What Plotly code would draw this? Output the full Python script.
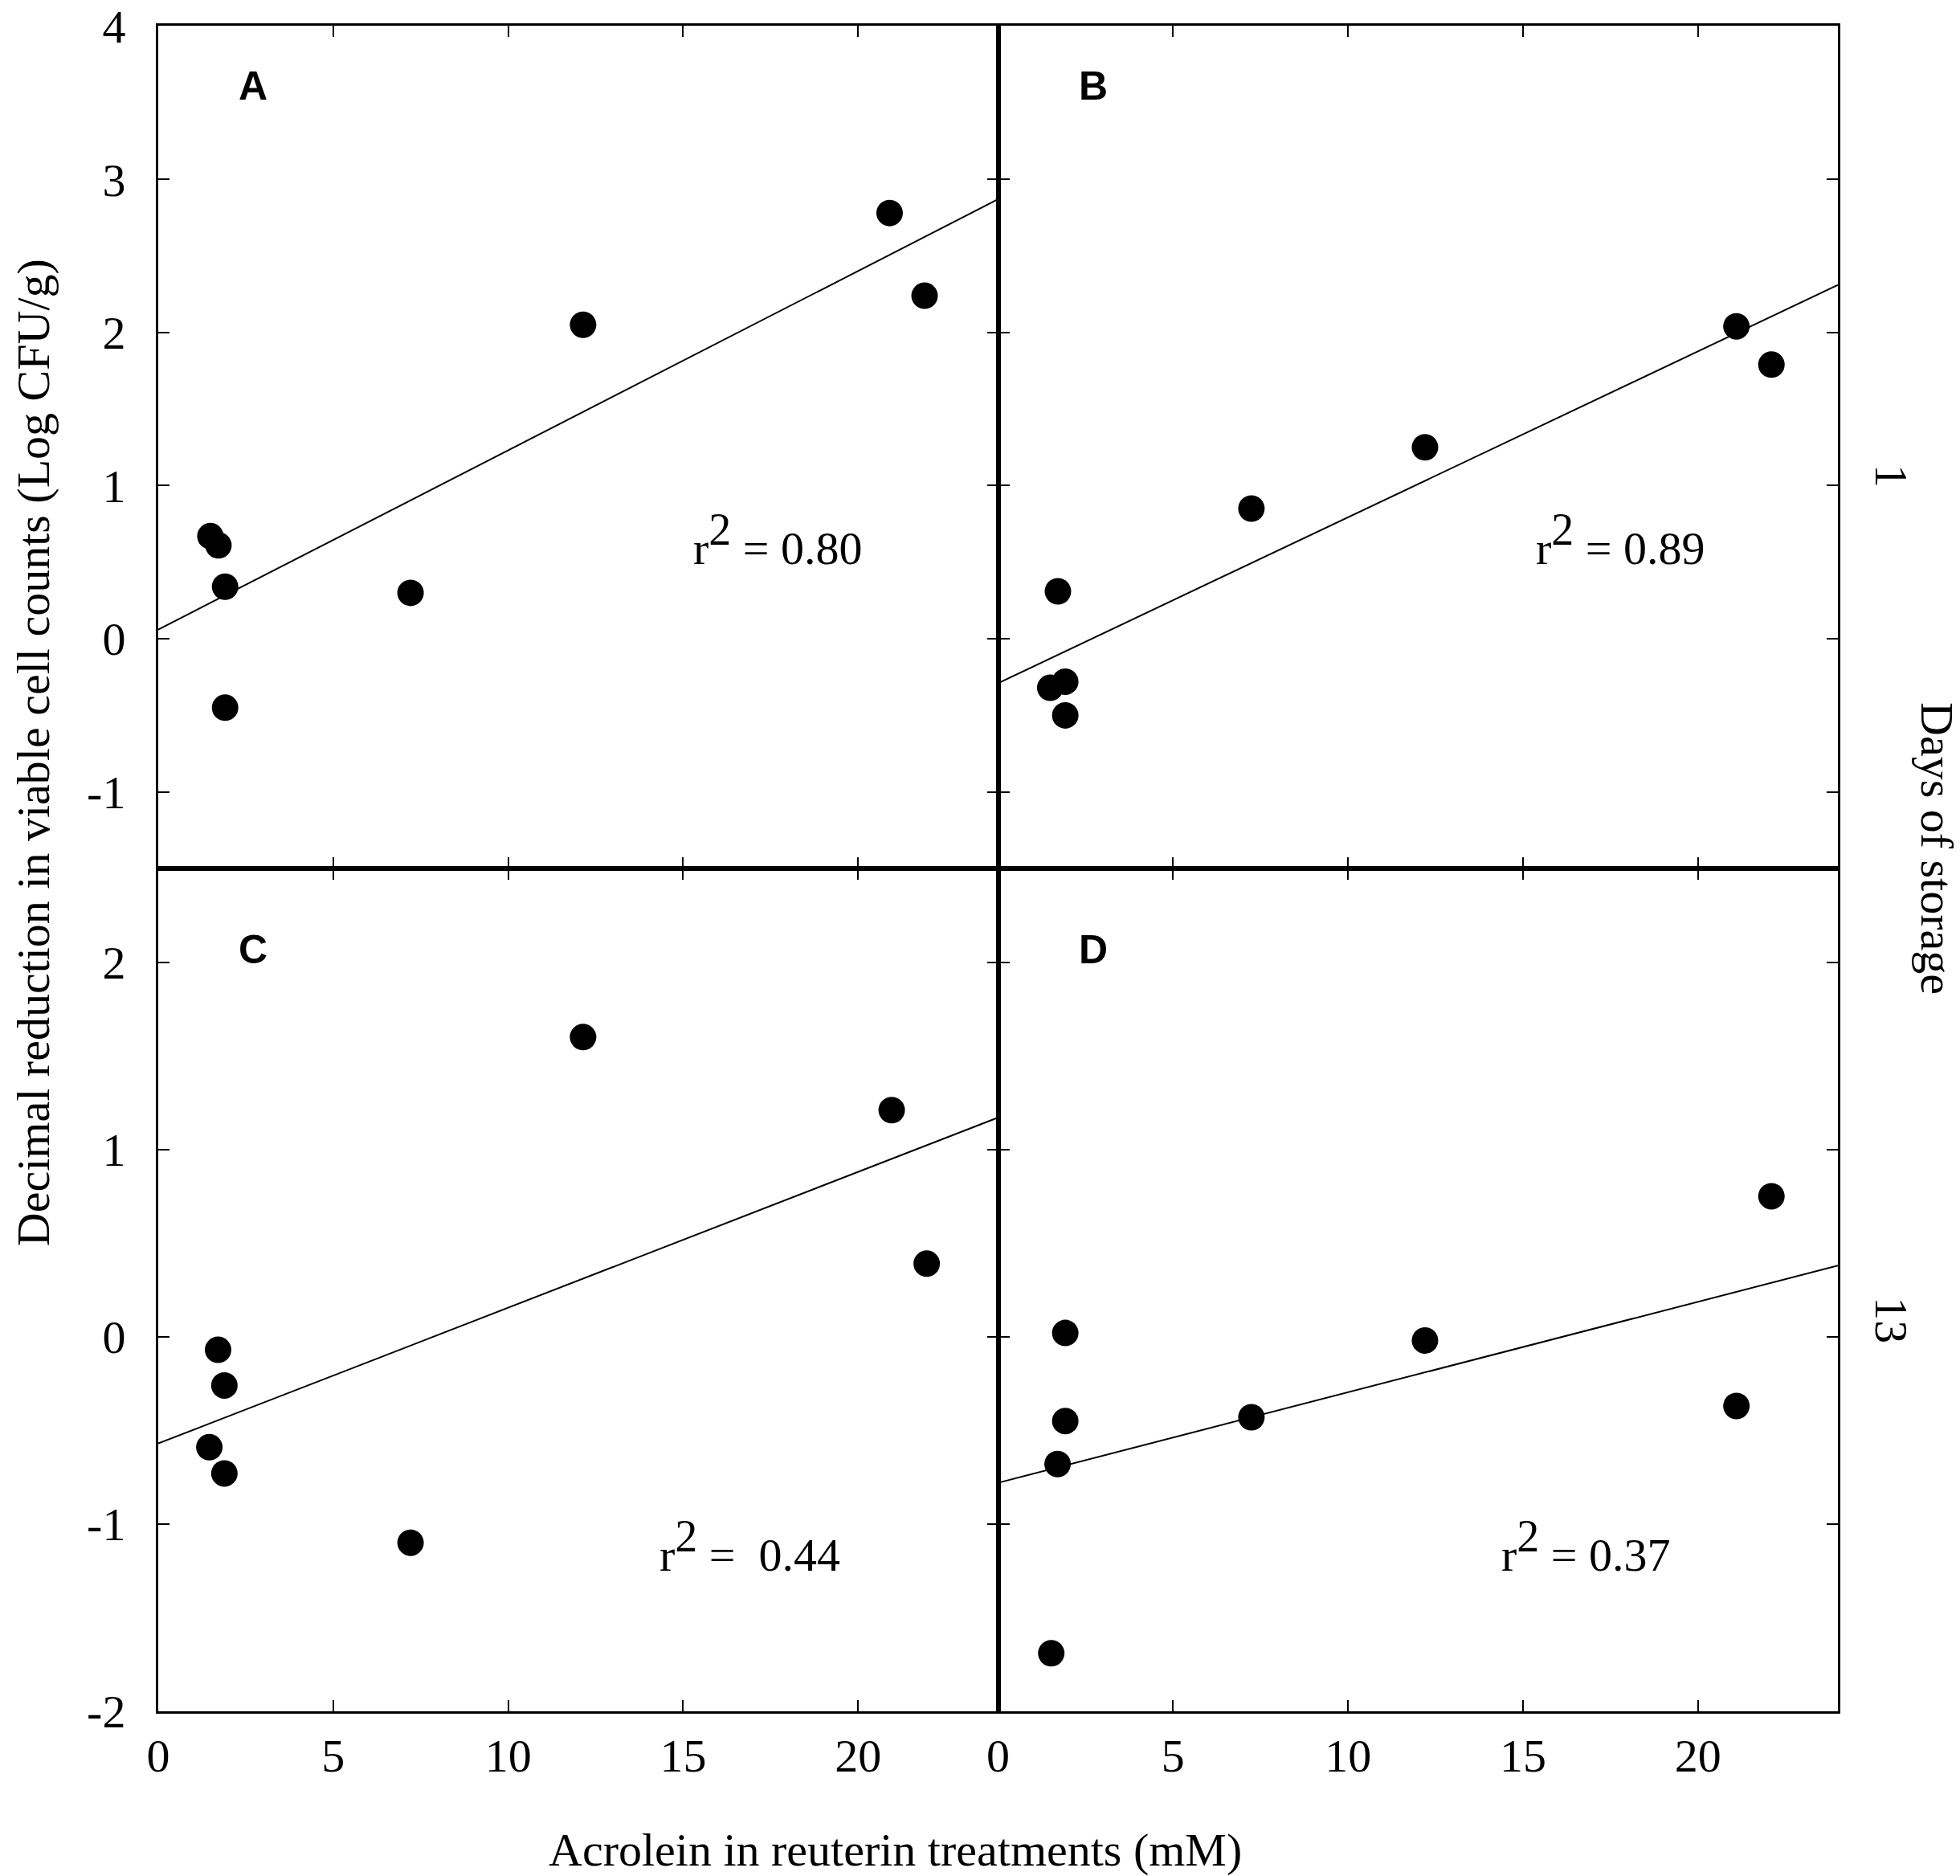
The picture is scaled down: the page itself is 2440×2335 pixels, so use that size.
import plotly.graph_objects as go
from plotly.subplots import make_subplots

# Acrolein (mM) vs decimal reduction
x_a = [1.49, 1.72, 1.91, 1.91, 7.21, 12.14, 20.9, 21.9]
y_a = [0.67, 0.61, 0.34, -0.45, 0.30, 2.05, 2.78, 2.24]

x_b = [1.71, 1.49, 1.92, 1.92, 7.24, 12.2, 21.1, 22.1]
y_b = [0.31, -0.32, -0.28, -0.50, 0.85, 1.25, 2.04, 1.79]

x_c = [1.46, 1.71, 1.89, 1.89, 7.21, 12.14, 20.96, 21.96]
y_c = [-0.59, -0.07, -0.26, -0.73, -1.10, 1.60, 1.21, 0.39]

x_d = [1.92, 1.92, 1.70, 1.52, 7.24, 12.2, 21.1, 22.1]
y_d = [0.02, -0.45, -0.68, -1.69, -0.43, -0.02, -0.37, 0.75]

# regression lines, read at x = 0 and x = 24
fit_x = [0, 24]
fit_a = [0.06, 2.87]
fit_b = [-0.29, 2.31]
fit_c = [-0.57, 1.17]
fit_d = [-0.78, 0.38]

panel_labels = ["A", "B", "C", "D"]
r2_labels = ["0.80", "0.89", " 0.44", "0.37"]

top_ticks = [-1, 0, 1, 2, 3, 4]
bottom_ticks = [-2, -1, 0, 1, 2]
x_ticks = [0, 5, 10, 15, 20]

SERIF = "Liberation Serif"
FS = 58

fig = make_subplots(rows=2, cols=2, horizontal_spacing=0, vertical_spacing=0)

panels = [
    (x_a, y_a, fit_a, 1, 1),
    (x_b, y_b, fit_b, 1, 2),
    (x_c, y_c, fit_c, 2, 1),
    (x_d, y_d, fit_d, 2, 2),
]
for xs, ys, fit, r, c in panels:
    fig.add_trace(go.Scatter(x=fit_x, y=fit, mode="lines",
                             line=dict(color="black", width=2)), row=r, col=c)
    fig.add_trace(go.Scatter(x=xs, y=ys, mode="markers",
                             marker=dict(color="black", size=33)), row=r, col=c)

axis_style = dict(
    showline=True, linecolor="black", linewidth=3, mirror="ticks",
    ticks="inside", ticklen=14, tickwidth=2, tickcolor="black",
    showgrid=False, zeroline=False, ticklabeloverflow="allow",
    automargin=False,
    tickfont=dict(family=SERIF, size=FS, color="black"),
)

for r in (1, 2):
    for c in (1, 2):
        fig.update_xaxes(axis_style, range=[0, 24], tickvals=x_ticks,
                         ticktext=[str(v) for v in x_ticks],
                         showticklabels=(r == 2), ticklabelstandoff=2,
                         row=r, col=c)
        ticks = top_ticks if r == 1 else bottom_ticks
        yr = [-1.5, 4.003] if r == 1 else [-2, 2.5]
        fig.update_yaxes(axis_style, range=yr, tickvals=ticks,
                         ticktext=[str(v) for v in ticks],
                         showticklabels=(c == 1), ticklabelstandoff=26,
                         row=r, col=c)

annotations = []
letter_pos = [(2.72, 3.61), (2.72, 3.61), (2.72, 2.065), (2.72, 2.065)]
r2_pos = [(17.7, 0.65), (17.8, 0.65), (16.9, -1.12), (16.8, -1.12)]
refs = [("x", "y"), ("x2", "y2"), ("x3", "y3"), ("x4", "y4")]
for i, (xr, yr) in enumerate(refs):
    annotations.append(dict(
        x=letter_pos[i][0], y=letter_pos[i][1], xref=xr, yref=yr,
        text="<b>%s</b>" % panel_labels[i], showarrow=False,
        font=dict(family="Liberation Sans", size=50, color="black")))
    annotations.append(dict(
        x=r2_pos[i][0], y=r2_pos[i][1], xref=xr, yref=yr,
        text="r<sup><span style='font-size:56px'>2</span></sup> = " + r2_labels[i].replace(" ", "&nbsp;"),
        showarrow=False, font=dict(family=SERIF, size=FS, color="black")))

side_font = dict(family=SERIF, size=FS, color="black")
annotations += [
    dict(x=-0.074, y=0.5687, xref="paper", yref="paper", textangle=-90,
         text="Decimal reduction in viable cell counts (Log CFU/g)",
         xanchor="center", yanchor="middle", showarrow=False, font=side_font),
    dict(x=0.4386, y=-0.082, xref="paper", yref="paper",
         text="Acrolein in reuterin treatments (mM)",
         xanchor="center", yanchor="middle", showarrow=False, font=side_font),
    dict(x=1.0593, y=0.5119, xref="paper", yref="paper", textangle=90,
         text="Days of storage",
         xanchor="center", yanchor="middle", showarrow=False, font=side_font),
    dict(x=1.032, y=0.7326, xref="paper", yref="paper", textangle=90,
         text="1", xanchor="center", yanchor="middle", showarrow=False, font=side_font),
    dict(x=1.032, y=0.2321, xref="paper", yref="paper", textangle=90,
         text="13", xanchor="center", yanchor="middle", showarrow=False, font=side_font),
]

fig.update_layout(
    width=2440, height=2335,
    margin=dict(l=189, r=160, t=24, b=213),
    plot_bgcolor="white", paper_bgcolor="white",
    showlegend=False,
    annotations=annotations,
)
fig.write_html("out.html")
